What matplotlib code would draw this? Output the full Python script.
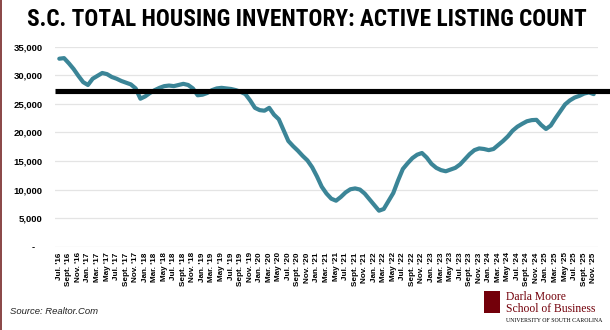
import matplotlib
matplotlib.use("Agg")
import matplotlib.pyplot as plt
from matplotlib import font_manager
from matplotlib.patches import Rectangle

# ---------------- data ----------------
values = [
    32900, 33000, 32100, 31100, 29900, 28800, 28300, 29400, 29900, 30400,
    30200, 29700, 29400, 29000, 28700, 28400, 27700, 25900, 26300, 26900,
    27400, 27800, 28100, 28200, 28100, 28300, 28500, 28300, 27700, 26500,
    26600, 26900, 27400, 27700, 27800, 27700, 27600, 27400, 27100, 26700,
    25600, 24300, 23900, 23800, 24300, 23100, 22300, 20400, 18500, 17600,
    16800, 15900, 15100, 13900, 12300, 10500, 9300, 8400, 8050, 8700,
    9500, 10050, 10200, 10000, 9300, 8300, 7300, 6300, 6600, 8000,
    9400, 11600, 13600, 14600, 15500, 16100, 16400, 15600, 14500, 13800,
    13400, 13200, 13500, 13800, 14400, 15300, 16200, 16900, 17200, 17100,
    16900, 17100, 17800, 18500, 19300, 20300, 21000, 21500, 21950, 22150,
    22200, 21300, 20600, 21200, 22500, 23700, 24900, 25600, 26100, 26400,
    26800, 27000, 26700,
]
tick_labels = [
    "Jul. '16", "Sept. '16", "Nov. '16",
    "Jan. '17", "Mar. '17", "May '17", "Jul. '17", "Sept. '17", "Nov. '17",
    "Jan. '18", "Mar. '18", "May '18", "Jul. '18", "Sept. '18", "Nov. '18",
    "Jan. '19", "Mar. '19", "May '19", "Jul. '19", "Sept. '19", "Nov. '19",
    "Jan. '20", "Mar. '20", "May '20", "Jul. '20", "Sept. '20", "Nov. '20",
    "Jan. '21", "Mar. '21", "May '21", "Jul. '21", "Sept. '21", "Nov. '21",
    "Jan. '22", "Mar. '22", "May '22", "Jul. '22", "Sept. '22", "Nov. '22",
    "Jan. '23", "Mar. '23", "May '23", "Jul. '23", "Sept. '23", "Nov. '23",
    "Jan. '24", "Mar. '24", "May '24", "Jul. '24", "Sept. '24", "Nov. '24",
    "Jan. '25", "Mar. '25", "May '25", "Jul. '25", "Sept. '25", "Nov. '25",
]
tick_step = 2
reference_level = 27300
y_ticks = [0, 5000, 10000, 15000, 20000, 25000, 30000, 35000]
title = "S.C. TOTAL HOUSING INVENTORY: ACTIVE LISTING COUNT"
source = "Source: Realtor.Com"

# ---------------- style ----------------
W, H = 610, 330
fig = plt.figure(figsize=(W / 100, H / 100), dpi=100)
fig.patch.set_facecolor("white")

L, R, T, B = 55, 598, 46.7, 246.7
ax = fig.add_axes([L / W, 1 - B / H, (R - L) / W, (B - T) / H])

xs = list(range(len(values)))
ax.plot(xs, values, color="#3b8597", lw=3.0, solid_capstyle="round",
        solid_joinstyle="round", zorder=3)
ax.axhline(reference_level, xmin=0, xmax=(W - L) / (R - L), color="black",
           lw=3.7, zorder=4, clip_on=False, solid_capstyle="butt")

ax.set_xlim(-0.9, len(values) - 1 + 0.9)
ax.set_ylim(0, 35000)
ax.set_yticks(y_ticks)
ax.set_yticklabels([f"{v:,}" if v else "-   " for v in y_ticks],
                   fontsize=6.8, fontweight="bold", family="Liberation Sans")
ax.set_xticks(xs[::tick_step])
ax.set_xticklabels(tick_labels, rotation=90, fontsize=5.9, fontweight="bold",
                   family="Liberation Sans")
ax.tick_params(axis="both", length=0)
ax.tick_params(axis="y", pad=9)
ax.tick_params(axis="x", pad=4)
ax.grid(axis="y", color="#e4e4e4", lw=0.9, zorder=0)
for s in ax.spines.values():
    s.set_visible(False)

# left border bar
fig.add_artist(Rectangle((0, 0), 2 / W, 1, transform=fig.transFigure,
                         color="#8c4a4a", lw=0))

# title with a condensed bold face
names = {f.name for f in font_manager.fontManager.ttflist}
tprops = None
for fam in ["Roboto Condensed", "Open Sans Condensed", "Liberation Sans Narrow"]:
    if fam in names:
        tprops = dict(family=fam, weight="heavy")
        break
if tprops is None:
    tprops = dict(family="DejaVu Sans", weight="bold", stretch="condensed")
t = fig.text(307 / W, 1 - 19.5 / H, title, ha="center", va="center",
             fontsize=18, color="black", **tprops)
fig.canvas.draw()
w = t.get_window_extent().width
t.set_fontsize(18 * 557 / w)

# source
fig.text(10 / W, 1 - 312 / H, source, fontsize=6.8, style="italic",
         family="Liberation Sans", color="#222222", va="center")

# logo
garnet = "#73000a"
fig.add_artist(Rectangle((484 / W, 1 - 313 / H), 16 / W, 22 / H,
                         transform=fig.transFigure, color=garnet, lw=0))
fig.text(506 / W, 1 - 296.5 / H, "Darla Moore", family="Liberation Serif",
         fontsize=8.4, color=garnet, va="center")
fig.text(506 / W, 1 - 308.5 / H, "School of Business", family="Liberation Serif",
         fontsize=8.4, color=garnet, va="center")
fig.text(506 / W, 1 - 321 / H, "UNIVERSITY OF SOUTH CAROLINA",
         family="Liberation Serif", fontsize=4.2, color="black", va="center")

fig.savefig("out.png", dpi=100, facecolor="white")
